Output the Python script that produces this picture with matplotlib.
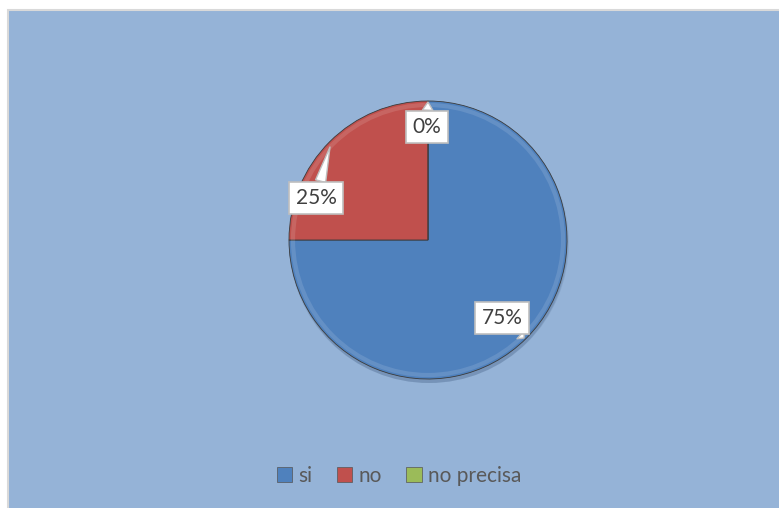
import matplotlib.pyplot as plt
from matplotlib.patches import Rectangle, Patch, Circle

# ==========================
# Data
# ==========================
categories = ["si", "no", "no precisa"]
values = [75, 25, 0]
pct_labels = ["75%", "25%", "0%"]
colors = ["#4F81BD", "#C0504D", "#9BBB59"]

W, H = 779, 508
fig = plt.figure(figsize=(W / 100, H / 100), dpi=100)
fig.patch.set_facecolor("white")
ax = fig.add_axes([0, 0, 1, 1])
ax.set_xlim(0, W)
ax.set_ylim(0, H)
ax.axis("off")

# chart area background, border visible only on top/left (rest is cropped)
ax.add_patch(Rectangle((8, -20), W + 20, H - 10 + 20, facecolor="#95B3D7",
                       edgecolor="#D9D9D9", linewidth=1.5, zorder=0,
                       clip_on=True))

cx, cy, r = 428, H - 240, 139

# soft shadow
for i, a in enumerate([0.10, 0.10, 0.12]):
    ax.add_patch(Circle((cx + 1, cy - 3 - i), r + 1 - i, facecolor="#2F4A70",
                        alpha=a, edgecolor="none", zorder=1))

wedges, _ = ax.pie(values, colors=colors, startangle=90, counterclock=False,
                   center=(cx, cy), radius=r, frame=True,
                   wedgeprops=dict(edgecolor="#3A3A3A", linewidth=0.6))
for w in wedges:
    w.set_zorder(2)

# slight highlight rim
ax.add_patch(Circle((cx, cy), r - 4, facecolor="none", edgecolor="white",
                    alpha=0.12, linewidth=3, zorder=3))
ax.set_xlim(0, W)
ax.set_ylim(0, H)
ax.set_aspect("auto")

# data label callouts (box center, pointer target)
label_pos = [(502, H - 318), (316, H - 198), (427, H - 127)]
pointers = [(524, H - 338), (330, H - 147), (428, H - 102)]
for txt, (bx, by), (px, py) in zip(pct_labels, label_pos, pointers):
    ax.annotate(txt, xy=(px, py), xytext=(bx, by), ha="center", va="center",
                fontsize=15, color="#404040", family="Lato", zorder=5,
                bbox=dict(boxstyle="square,pad=0.3", facecolor="white",
                          edgecolor="#BFBFBF", linewidth=1.2),
                arrowprops=dict(arrowstyle="wedge,tail_width=0.5", facecolor="white",
                                edgecolor="#BFBFBF", linewidth=1.0, shrinkA=0, shrinkB=0))

# legend
handles = [Patch(facecolor=c, edgecolor="#555555", linewidth=0.5) for c in colors]
leg = fig.legend(handles, categories, loc="center", ncol=3, frameon=False,
                 bbox_to_anchor=(399 / W, 1 - 476 / H),
                 handlelength=0.75, handleheight=0.75, handletextpad=0.3,
                 columnspacing=1.15, prop=dict(family="Lato", size=15))
for t in leg.get_texts():
    t.set_color("#595959")

plt.savefig("out.png", dpi=100)
plt.close()
